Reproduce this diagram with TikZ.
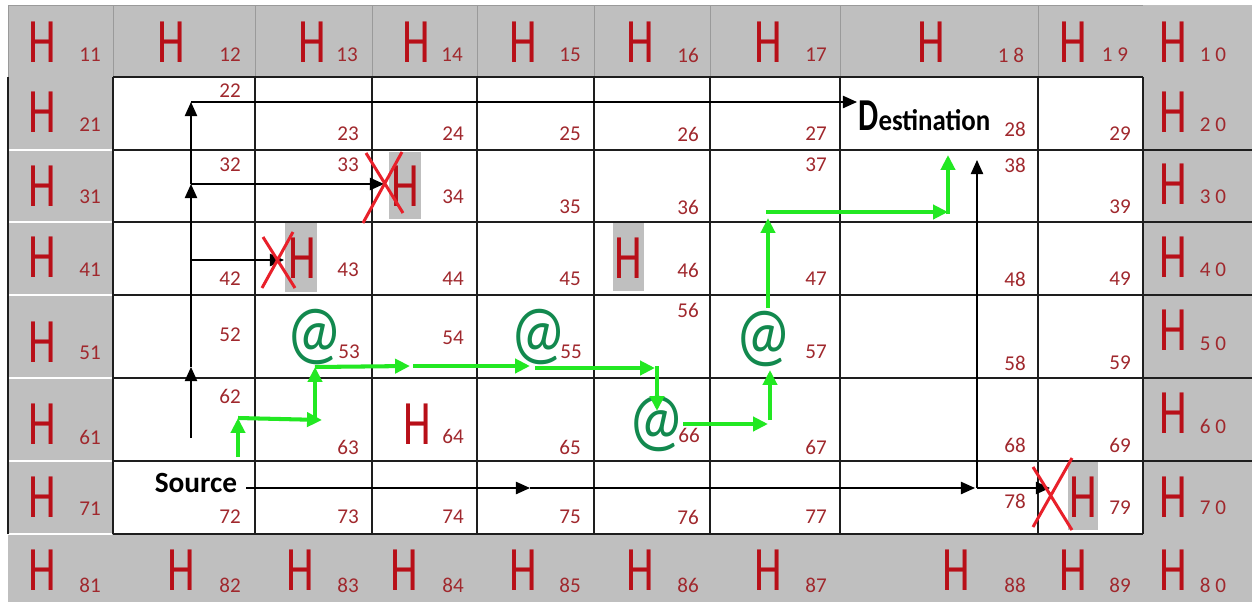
\documentclass[tikz,border=0pt]{standalone}
\usepackage{fontspec}
\setmainfont{Carlito}
\newfontfamily\hfont[FakeStretch=0.7]{Carlito}
\newfontfamily\atfont[FakeStretch=0.85]{Carlito}
\newfontfamily\dstfont[FakeStretch=0.9]{Carlito}
\usetikzlibrary{arrows.meta, positioning}
\definecolor{cGray}{HTML}{BFBFBF}
\definecolor{cSep}{HTML}{9A9A9A}
\definecolor{cHRed}{HTML}{B80F18}
\definecolor{cNum}{HTML}{A0282D}
\definecolor{cPath}{HTML}{22E822}
\definecolor{cAt}{HTML}{12894E}
\definecolor{cCross}{HTML}{E8202A}
\definecolor{cLine}{HTML}{1E1E1E}

\begin{document}
\begin{tikzpicture}[x=0.02cm, y=-0.02cm,
    hnode/.style={text=cHRed, inner sep=0pt, font=\hfont\fontsize{36}{36}\selectfont},
    num/.style={text=cNum, inner sep=0pt, font=\fontsize{12}{12}\selectfont},
    atnode/.style={text=cAt, inner sep=0pt, font=\atfont\fontsize{42}{42}\selectfont},
    gridline/.style={draw=cLine, line width=0.8pt},
    hop/.style={draw=cPath, line width=2.3pt, -{Triangle[length=8.5pt, width=8pt]}},
    route/.style={draw=black, line width=0.8pt, -{Triangle[length=8pt, width=7pt]}},
    cross/.style={draw=cCross, line width=1.7pt}]
    \useasboundingbox (0,0) rectangle (1252,602);
    % frame and field
    \fill[cGray] (8,5) rectangle (1252,602);
    \fill[white] (113,77) rectangle (1143,534);
    \fill[cGray] (389,152) rectangle (421,219);
    \fill[cGray] (285,223) rectangle (317,292);
    \fill[cGray] (613,223) rectangle (644,291);
    \fill[cGray] (1068,462) rectangle (1098,530);
    \draw[cSep, line width=0.5pt] (8,5) -- (1143,5);
    \foreach \x in {8,113,255,372,477,594,710,840,1038}
        \draw[cSep, line width=0.5pt] (\x,5) -- (\x,77);
    \foreach \y in {150,222,295,378,461,534}
        \draw[white, line width=1.2pt] (8,\y) -- (112,\y);
    \foreach \x in {113,255,372,477,594,710,840,1038,1143}
        \draw[gridline] (\x,77) -- (\x,534);
    \foreach \y in {150,222,295,378,461}
        \draw[gridline] (113,\y) -- (1252,\y);
    \draw[gridline] (113,77) -- (1143,77);
    \draw[gridline] (113,534) -- (1143,534);
    \draw[gridline] (8,77) -- (8,534);

    % hosts
    \foreach \x/\n in {42/11,171/12,312/13,416/14,523/15,640/16,768/17,931/18,1073/19,1173/10}
        \node[hnode] (h\n) at (\x,42) {H};
    \foreach \y/\n in {112/21,186/31,257/41,342/51,424/61,497/71}
        \node[hnode] (h\n) at (42,\y) {H};
    \foreach \y/\n in {112/20,184/30,257/40,330/50,413/60,497/70}
        \node[hnode] (h\n) at (1173,\y) {H};
    \foreach \x/\n in {42/81,181/82,300/83,404/84,523/85,640/86,768/87,956/88,1073/89,1173/80}
        \node[hnode] (h\n) at (\x,570) {H};
    \node[hnode] (h34) at (405,186) {H};
    \node[hnode] (h43) at (302,258) {H};
    \node[hnode] (h46) at (628,258) {H};
    \node[hnode] (h64) at (417,424) {H};
    \node[hnode] (h79) at (1083,497) {H};

    % cell numbers
    \foreach \x/\y/\n in {90/55/11,230/55/12,347/55/13,452/55/14,570/55/15,688/55/16,816/55/17,
        90/125/21,230/91/22,348/134/23,453/134/24,570/134/25,688/134/26,816/134/27,1015/129/28,1120/134/29,
        90/197/31,230/165/32,348/165/33,453/197/34,570/207/35,688/207/36,816/165/37,1015/165/38,1120/207/39,
        90/270/41,230/279/42,348/270/43,453/279/44,570/279/45,688/270/46,816/279/47,1015/279/48,1120/279/49,
        90/353/51,230/335/52,349/352/53,453/338/54,571/352/55,688/310/56,816/352/57,1015/363/58,1120/363/59,
        90/437/61,230/396/62,348/447/63,453/436/64,570/447/65,689/435/66,816/447/67,1015/445/68,1120/445/69,
        90/509/71,230/517/72,348/517/73,453/517/74,570/517/75,688/517/76,816/517/77,1015/501/78,1120/508/79,
        90/585/81,230/585/82,348/585/83,453/585/84,570/585/85,688/585/86,816/585/87,1015/585/88,1120/585/89}
        \node[num] (n\n) at (\x,\y) {\n};
    \node[num] (n18) at (1011,55) {1 8};
    \node[num] (n19) at (1115,55) {1 9};
    \foreach \y/\a/\b in {55/1/0,125/2/0,197/3/0,270/4/0,344/5/0,426/6/0,508/7/0,585/8/0}
        \node[num] (n\a\b) at (1213,\y) {\a\ \b};

    % ends of the route
    \node[font=\bfseries\fontsize{16.7}{17}\selectfont, inner sep=0pt] (src) at (196,483) {Source};
    \node[inner sep=0pt, anchor=base west] (dst) at (858,130)
        {\hfont\bfseries\fontsize{26}{26}\selectfont D\dstfont\bfseries\fontsize{17}{17}\selectfont estination};

    % mobile nodes
    \node[atnode] (at53) at (315,337) {@};
    \node[atnode] (at55) at (539,337) {@};
    \node[atnode] (at66) at (657,424) {@};
    \node[atnode] (at57) at (764,339) {@};

    % flooding paths
    \coordinate (b0) at (191,438);
    \coordinate (b1) at (191,367);
    \coordinate (b2) at (191,260);
    \coordinate (b3) at (191,184);
    \coordinate (b4) at (191,102);
    \coordinate (t43) at (284,260);
    \coordinate (t34) at (384,184);
    \coordinate (t28) at (857,102);
    \draw[route] (b0) -- (b1);
    \draw[route] (b1) -- (b3);
    \draw[route] (b3) -- (b4);
    \draw[route] (b4) -- (t28);
    \draw[route] (b3) -- (t34);
    \draw[route] (b2) -- (t43);
    \coordinate (s0) at (246,488);
    \coordinate (s1) at (530,488);
    \coordinate (s2) at (975,488);
    \coordinate (s3) at (977,488);
    \coordinate (t79) at (1050,488);
    \coordinate (t38) at (977,160);
    \draw[route] (s0) -- (s1);
    \draw[route] (s1) -- (s2);
    \draw[route] (s3) -- (t79);
    \draw[route] (s3) -- (t38);

    % green route
    \coordinate (g0) at (238,457);
    \coordinate (g1) at (238,418);
    \coordinate (g2) at (322,420);
    \coordinate (g3) at (315,420);
    \coordinate (g4) at (315,367);
    \coordinate (g5) at (410,366);
    \coordinate (g6) at (413,366);
    \coordinate (g7) at (530,366);
    \coordinate (g8) at (535,368);
    \coordinate (g9) at (655,368);
    \coordinate (g10) at (657,366);
    \coordinate (g11) at (657,411);
    \coordinate (g12) at (683,424);
    \coordinate (g13) at (768,424);
    \coordinate (g14) at (770,420);
    \coordinate (g15) at (770,370);
    \coordinate (g16) at (768,308);
    \coordinate (g17) at (768,218);
    \coordinate (g18) at (766,212);
    \coordinate (g19) at (948,212);
    \coordinate (g20) at (948,214);
    \coordinate (g21) at (948,155);
    \draw[hop] (g0) -- (g1);
    \draw[hop] (g1) -- (g2);
    \draw[hop] (g3) -- (g4);
    \draw[hop] (g4) -- (g5);
    \draw[hop] (g6) -- (g7);
    \draw[hop] (g8) -- (g9);
    \draw[hop] (g10) -- (g11);
    \draw[hop] (g12) -- (g13);
    \draw[hop] (g14) -- (g15);
    \draw[hop] (g16) -- (g17);
    \draw[hop] (g18) -- (g19);
    \draw[hop] (g20) -- (g21);

    % dead hosts
    \draw[cross] (363,223) -- (402,152) (366,153) -- (403,213);
    \draw[cross] (262,288) -- (293,232) (263,237) -- (295,288);
    \draw[cross] (1033,527) -- (1072,458) (1033,467) -- (1072,530);
\end{tikzpicture}
\end{document}
